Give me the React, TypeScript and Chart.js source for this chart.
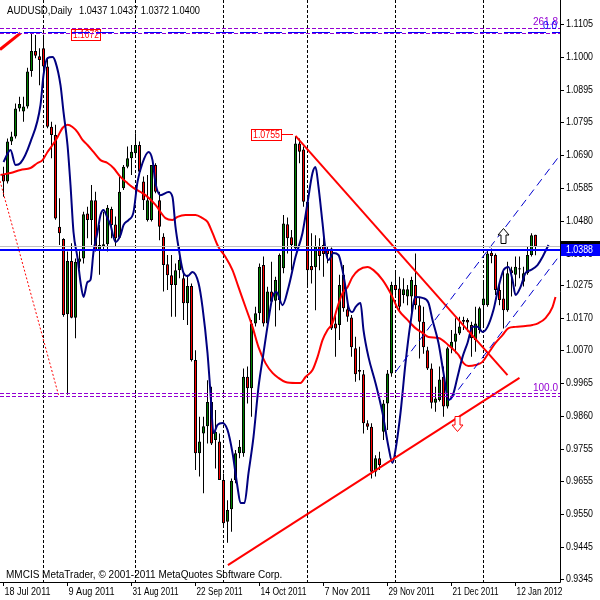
import React, { useEffect, useRef } from 'react';
import { Chart, registerables } from 'chart.js';

Chart.register(...registerables);

// ---------------- data (daily bars, index 0 = 18 Jul 2011) ----------------
const OPEN = [
  1.0627, 1.0606, 1.0733, 1.0749, 1.0838, 1.0828, 1.0844, 1.0957, 1.1020, 1.1004,
  1.1029, 1.0971, 1.0780, 1.0754, 1.0463, 1.0424, 1.0185, 1.0354, 1.0174, 1.0352,
  1.0362, 1.0505, 1.0484, 1.0547, 1.0386, 1.0400, 1.0407, 1.0519, 1.0470, 1.0428,
  1.0585, 1.0653, 1.0680, 1.0696, 1.0722, 1.0606, 1.0484, 1.0484, 1.0659, 1.0547,
  1.0431, 1.0344, 1.0309, 1.0278, 1.0325, 1.0299, 1.0220, 1.0275, 1.0040, 0.9744,
  0.9807, 0.9830, 0.9907, 0.9786, 0.9781, 0.9659, 0.9527, 0.9566, 0.9659, 0.9744,
  0.9744, 0.9987, 0.9950, 1.0156, 1.0188, 1.0341, 1.0156, 1.0257, 1.0228, 1.0230,
  1.0331, 1.0471, 1.0429, 1.0394, 1.0727, 1.0708, 1.0542, 1.0338, 1.0334, 1.0400,
  1.0405, 1.0389, 1.0394, 1.0156, 1.0151, 1.0310, 1.0201, 1.0175, 1.0077, 1.0008,
  0.9995, 0.9839, 0.9828, 0.9685, 0.9728, 0.9812, 0.9902, 0.9997, 1.0278, 1.0267,
  1.0246, 1.0241, 1.0241, 1.0278, 1.0214, 1.0161, 1.0071, 1.0013, 0.9904, 0.9913,
  0.9987, 0.9892, 1.0077, 1.0098, 1.0124, 1.0167, 1.0167, 1.0151, 1.0103, 1.0135,
  1.0214, 1.0214, 1.0380, 1.0373, 1.0262, 1.0235, 1.0198, 1.0325, 1.0310, 1.0331,
  1.0288, 1.0315, 1.0373, 1.0437,
];
const HIGH = [
  1.0653, 1.0743, 1.0764, 1.0854, 1.0875, 1.0875, 1.0967, 1.1080, 1.1071, 1.1029,
  1.1072, 1.0997, 1.0796, 1.0786, 1.0553, 1.0426, 1.0384, 1.0410, 1.0362, 1.0385,
  1.0510, 1.0526, 1.0595, 1.0574, 1.0468, 1.0510, 1.0532, 1.0526, 1.0495, 1.0622,
  1.0659, 1.0717, 1.0722, 1.0759, 1.0733, 1.0622, 1.0627, 1.0659, 1.0664, 1.0574,
  1.0442, 1.0373, 1.0373, 1.0346, 1.0399, 1.0320, 1.0310, 1.0283, 1.0071, 0.9860,
  0.9860, 0.9976, 0.9955, 0.9881, 0.9807, 0.9680, 0.9595, 0.9664, 0.9754, 0.9786,
  1.0013, 1.0019, 1.0167, 1.0209, 1.0346, 1.0368, 1.0272, 1.0352, 1.0304, 1.0378,
  1.0500, 1.0492, 1.0452, 1.0751, 1.0743, 1.0717, 1.0558, 1.0442, 1.0436, 1.0426,
  1.0431, 1.0399, 1.0397, 1.0183, 1.0310, 1.0341, 1.0230, 1.0183, 1.0114, 1.0082,
  1.0008, 0.9849, 0.9839, 0.9738, 0.9749, 0.9913, 1.0008, 1.0288, 1.0325, 1.0304,
  1.0299, 1.0278, 1.0304, 1.0378, 1.0240, 1.0209, 1.0082, 1.0029, 0.9955, 1.0019,
  1.0019, 1.0082, 1.0135, 1.0172, 1.0177, 1.0177, 1.0172, 1.0161, 1.0209, 1.0209,
  1.0294, 1.0389, 1.0394, 1.0378, 1.0283, 1.0325, 1.0352, 1.0336, 1.0368, 1.0368,
  1.0336, 1.0399, 1.0442, 1.0437,
];
const LOW = [
  1.0558, 1.0600, 1.0722, 1.0743, 1.0828, 1.0796, 1.0838, 1.0939, 1.0997, 1.0912,
  1.0907, 1.0775, 1.0680, 1.0485, 1.0405, 1.0177, 0.9930, 1.0172, 1.0109, 1.0330,
  1.0346, 1.0426, 1.0405, 1.0384, 1.0310, 1.0389, 1.0384, 1.0426, 1.0400, 1.0426,
  1.0579, 1.0648, 1.0627, 1.0685, 1.0632, 1.0516, 1.0479, 1.0479, 1.0569, 1.0420,
  1.0257, 1.0262, 1.0177, 1.0177, 1.0299, 1.0167, 1.0151, 1.0035, 0.9691, 0.9670,
  0.9617, 0.9775, 0.9770, 0.9696, 0.9659, 0.9516, 0.9460, 0.9495, 0.9649, 0.9728,
  0.9733, 0.9902, 0.9860, 1.0146, 1.0167, 1.0146, 1.0146, 1.0220, 1.0146, 1.0198,
  1.0315, 1.0378, 1.0325, 1.0389, 1.0664, 1.0526, 1.0273, 1.0283, 1.0198, 1.0325,
  1.0304, 1.0347, 1.0135, 1.0050, 1.0103, 1.0193, 1.0161, 1.0050, 0.9971, 0.9976,
  0.9807, 0.9818, 0.9664, 0.9670, 0.9691, 0.9786, 0.9818, 0.9987, 1.0241, 1.0198,
  1.0220, 1.0214, 1.0188, 1.0200, 1.0045, 1.0060, 1.0008, 0.9886, 0.9876, 0.9908,
  0.9860, 0.9886, 1.0061, 1.0061, 1.0119, 1.0135, 1.0130, 1.0050, 1.0066, 1.0124,
  1.0146, 1.0209, 1.0347, 1.0246, 1.0214, 1.0140, 1.0193, 1.0241, 1.0273, 1.0299,
  1.0273, 1.0310, 1.0368, 1.0372,
];
const CLOSE = [
  1.0606, 1.0733, 1.0749, 1.0838, 1.0852, 1.0844, 1.0955, 1.1020, 1.1005, 1.0992,
  1.0971, 1.0780, 1.0754, 1.0489, 1.0442, 1.0183, 1.0354, 1.0174, 1.0352, 1.0362,
  1.0502, 1.0484, 1.0547, 1.0386, 1.0405, 1.0407, 1.0523, 1.0468, 1.0426, 1.0574,
  1.0653, 1.0680, 1.0701, 1.0722, 1.0637, 1.0547, 1.0547, 1.0659, 1.0574, 1.0463,
  1.0341, 1.0309, 1.0278, 1.0325, 1.0357, 1.0220, 1.0275, 1.0040, 0.9744, 0.9781,
  0.9830, 0.9907, 0.9775, 0.9812, 0.9659, 0.9522, 0.9564, 0.9657, 0.9744, 0.9765,
  0.9987, 0.9950, 1.0156, 1.0188, 1.0336, 1.0156, 1.0257, 1.0225, 1.0294, 1.0373,
  1.0473, 1.0426, 1.0405, 1.0727, 1.0701, 1.0542, 1.0325, 1.0325, 1.0400, 1.0370,
  1.0376, 1.0376, 1.0140, 1.0140, 1.0278, 1.0204, 1.0177, 1.0080, 0.9995, 1.0003,
  0.9839, 0.9828, 0.9685, 0.9728, 0.9707, 0.9902, 0.9997, 1.0278, 1.0262, 1.0209,
  1.0264, 1.0264, 1.0294, 1.0214, 1.0161, 1.0080, 1.0013, 0.9904, 0.9918, 0.9978,
  0.9892, 1.0077, 1.0098, 1.0124, 1.0146, 1.0161, 1.0159, 1.0109, 1.0156, 1.0204,
  1.0235, 1.0378, 1.0370, 1.0262, 1.0230, 1.0198, 1.0315, 1.0315, 1.0336, 1.0327,
  1.0315, 1.0373, 1.0436, 1.0400,
];

const DATE_TICK_BARS = [0, 16, 32, 48, 64, 80, 96, 112, 128];
const DATE_TICK_LABELS = [
  '18 Jul 2011', '9 Aug 2011', '31 Aug 2011', '22 Sep 2011', '14 Oct 2011',
  '7 Nov 2011', '29 Nov 2011', '21 Dec 2011', '12 Jan 2012',
];
const MONTH_START_BARS = [10, 33, 55, 76, 98, 120];
const PRICE_TICKS = [
  1.1105, 1.1, 1.0895, 1.0795, 1.069, 1.0585, 1.048, 1.0375, 1.0275, 1.017,
  1.007, 0.9965, 0.986, 0.9755, 0.9655, 0.955, 0.9445, 0.9345,
];

// moving averages: [bar, price]
const BLUE_MA = [
  [0, 1.0668], [1.75, 1.0706], [3, 1.0659], [4.25, 1.0665], [6.75, 1.0732], [9.25, 1.0849],
  [10, 1.0944], [11, 1.0998], [12.25, 1.1001], [13, 1.0985], [14.25, 1.0912], [15, 1.0827],
  [16, 1.0722], [16.75, 1.0595], [17.5, 1.0446], [18.5, 1.0364], [19.25, 1.0287], [20, 1.024],
  [21, 1.0287], [21.75, 1.0294], [22.5, 1.0383], [23.5, 1.0446], [24.25, 1.05], [25, 1.0516],
  [26, 1.049], [26.75, 1.0468], [28, 1.0414], [29.25, 1.0436], [30, 1.0468], [31.25, 1.0484],
  [32.5, 1.0509], [33.5, 1.0605], [34.75, 1.0665], [36.25, 1.07], [37.25, 1.0674], [38, 1.0601],
  [39.25, 1.0563], [41.25, 1.0573], [42.25, 1.0557], [43, 1.0462], [43.75, 1.0398], [45, 1.0316],
  [46, 1.0306], [47.25, 1.0319], [48.75, 1.0284], [49.75, 1.0208], [51, 1.0062], [51.75, 0.9935],
  [52.5, 0.9808], [53.5, 0.9834], [54.75, 0.984], [56, 0.9818], [57.25, 0.9745], [58.5, 0.9637],
  [59.25, 0.9586], [60.25, 0.9586], [61.25, 0.9681], [62.5, 0.9796], [63.75, 0.9954], [65, 1.0062],
  [66.25, 1.0167], [67.25, 1.024], [68.25, 1.0256], [69.75, 1.0214], [71.25, 1.0271], [73, 1.0367],
  [74.75, 1.0443], [76, 1.0538], [77.25, 1.0633], [78, 1.0652], [78.75, 1.0589], [79.75, 1.0475],
  [80.5, 1.0389], [81.25, 1.0357], [82.5, 1.0379], [83.75, 1.0373], [84.75, 1.0325], [85.5, 1.0271],
  [86.25, 1.0208], [87.25, 1.0192], [88, 1.0208], [89.25, 1.0221], [90, 1.0135], [91.25, 1.0049],
  [93, 0.9967], [94.75, 0.9872], [96.25, 0.9764], [97.25, 0.9713], [98, 0.9754], [99.25, 0.9872],
  [100.5, 1.003], [101.75, 1.0157], [103, 1.024], [104.75, 1.0237], [106.25, 1.0221], [107.25, 1.0167],
  [108.75, 1.0094], [110, 0.9999], [111.25, 0.9913], [112.5, 0.9935], [113.5, 0.9986], [114.75, 1.0049],
  [116, 1.0094], [117.25, 1.0145], [118.5, 1.0145], [119.75, 1.0129], [121, 1.0145], [122.5, 1.0199],
  [123.75, 1.0271], [125, 1.0325], [126.25, 1.0335], [127.25, 1.0294], [128, 1.0246], [129.25, 1.0271],
  [130.5, 1.0316], [131.75, 1.0325], [133.5, 1.0341], [134.75, 1.0367], [136.25, 1.0405],
];
const RED_MA = [
  [-0.75, 1.0627], [1.75, 1.0633], [4.25, 1.0643], [6.75, 1.0649], [8.5, 1.0665], [9.75, 1.0674],
  [11, 1.07], [12.25, 1.0722], [13.5, 1.0747], [14.75, 1.0776], [16, 1.0786], [17.25, 1.0779],
  [18.5, 1.0763], [19.75, 1.0738], [21, 1.0722], [22.5, 1.07], [24.25, 1.0674], [26, 1.0665],
  [27.5, 1.0649], [29.25, 1.0621], [31, 1.0601], [32.5, 1.0586], [34.25, 1.0573], [35.5, 1.0563],
  [38, 1.0532], [40.5, 1.049], [42.25, 1.0484], [43.5, 1.0494], [45.5, 1.05], [48, 1.05],
  [49.75, 1.049], [51, 1.0478], [52.25, 1.0443], [53.75, 1.0398], [55.5, 1.0367], [57.25, 1.0325],
  [58.75, 1.0271], [60.5, 1.0208], [62.25, 1.0145], [63.75, 1.0081], [65.5, 1.003], [67.25, 0.9999],
  [68.75, 0.9983], [70.5, 0.997], [73, 0.9967], [74.25, 0.9967], [75.5, 0.9986], [77.25, 1.0008],
  [78.5, 1.0049], [79.75, 1.0103], [81, 1.0135], [82.25, 1.0157], [83.5, 1.0208], [84.75, 1.0252],
  [86, 1.0271], [87.25, 1.0303], [88.75, 1.0325], [91, 1.0335], [92.5, 1.0325], [94.75, 1.0294],
  [96.75, 1.0252], [98.75, 1.0199], [101, 1.0167], [103, 1.0141], [104.75, 1.0126], [106.25, 1.0113],
  [108.75, 1.011], [111.25, 1.0087], [113.75, 1.0056], [115, 1.003], [116.25, 1.0021], [118, 1.0024],
  [119.75, 1.0034], [121.25, 1.0062], [123, 1.0094], [124.75, 1.0119], [126.25, 1.0141], [128, 1.0145],
  [130.5, 1.0148], [132.25, 1.0151], [133.75, 1.0157], [135.5, 1.0173], [137.25, 1.0208], [138, 1.024],
];

// drawn objects: [bar, price] end points
const RESISTANCE_LINE = [[73, 1.0751], [126, 0.9992]];
const SUPPORT_LINE = [[56.1, 0.9389], [129, 0.9983]];
const EARLY_TREND_LINE = [[-0.875, 1.1025], [4.25, 1.1077]];
const FIBO_BASE_LINE = [[-0.875, 1.0608], [13.75, 0.9929]];
const CHANNEL_UPPER = [[98, 1.0002], [139.125, 1.069]];
const CHANNEL_LOWER = [[111.75, 0.9913], [139.125, 1.0373]];

const FIBO_TOP_LEVELS = [1.1092, 1.1076];
const FIBO_ZERO_LEVEL = 1.108;
const FIBO_BOTTOM_LEVELS = [0.9935, 0.9924];
const FIBO_LABELS = ['261.8', '0.0', '100.0'];
const HLINE_PRICE = 1.0388;
const BID_PRICE = 1.04;
const PEAK_LABEL = { bar: 73, price: 1.0755 };
const HIGH_LABEL = { bar: 16, price: 1.1072 };
const ARROW_UP = [125, 1.0433];
const ARROW_DOWN = [113.5, 0.9837];

const SYMBOL_TITLE = 'AUDUSD,Daily';
const COPYRIGHT = 'MMCIS MetaTrader, \u00A9 2001-2011 MetaQuotes Software Corp.';

// ---------------- scale extents ----------------
const X_MIN = -0.875;
const X_MAX = 139.125;
const Y_MIN = 0.93355;
const Y_MAX = 1.11758;

const FONT = '10px "Liberation Sans", Arial, sans-serif';
const PURPLE = '#9400D3';

const toXY = (pts: number[][]) => pts.map(([x, y]) => ({ x, y }));
const half = (v: number) => Math.floor(v) + 0.5;

function drawArrow(ctx: CanvasRenderingContext2D, cx: number, cy: number, up: boolean, stroke: string) {
  const s = up ? 1 : -1;
  const pts = [[0, -8], [5.5, -1.5], [2.5, -1.5], [2.5, 7], [-2.5, 7], [-2.5, -1.5], [-5.5, -1.5]];
  ctx.beginPath();
  pts.forEach(([dx, dy], k) => {
    const X = cx + dx;
    const Y = cy + dy * s;
    if (k) ctx.lineTo(X, Y); else ctx.moveTo(X, Y);
  });
  ctx.closePath();
  ctx.fillStyle = '#fff';
  ctx.fill();
  ctx.strokeStyle = stroke;
  ctx.lineWidth = 1;
  ctx.setLineDash([]);
  ctx.stroke();
}

function priceBox(ctx: CanvasRenderingContext2D, left: number, cy: number, w: number, text: string) {
  ctx.fillStyle = '#fff';
  ctx.strokeStyle = '#f00';
  ctx.lineWidth = 1;
  ctx.setLineDash([]);
  const top = Math.round(cy - 6) + 0.5;
  ctx.fillRect(left, top, w, 11);
  ctx.strokeRect(left, top, w, 11);
  ctx.fillStyle = '#f00';
  ctx.font = FONT;
  ctx.textAlign = 'center';
  ctx.textBaseline = 'middle';
  ctx.fillText(text, left + w / 2, top + 6, w - 3);
}

const overlayPlugin = {
  id: 'mtOverlay',
  beforeDatasetsDraw(chart: any) {
    const { ctx, chartArea: a } = chart;
    const xs = chart.scales.x;
    ctx.save();
    ctx.strokeStyle = '#000';
    ctx.lineWidth = 1;
    ctx.setLineDash([3, 2]);
    for (const b of MONTH_START_BARS) {
      const px = half(xs.getPixelForValue(b));
      ctx.beginPath();
      ctx.moveTo(px, 0);
      ctx.lineTo(px, a.bottom);
      ctx.stroke();
    }
    ctx.restore();
  },
  afterDatasetsDraw(chart: any) {
    const { ctx, chartArea: a } = chart;
    const xs = chart.scales.x;
    const ys = chart.scales.y;
    ctx.save();
    ctx.beginPath();
    ctx.rect(a.left, 0, a.right - a.left, a.bottom);
    ctx.clip();

    // price labels
    const hx = xs.getPixelForValue(HIGH_LABEL.bar);
    priceBox(ctx, Math.round(hx + 3) + 0.5, ys.getPixelForValue(HIGH_LABEL.price), 29, HIGH_LABEL.price.toFixed(4));
    const px = xs.getPixelForValue(PEAK_LABEL.bar);
    const py = ys.getPixelForValue(PEAK_LABEL.price);
    priceBox(ctx, Math.round(px - 45) + 0.5, py, 30, PEAK_LABEL.price.toFixed(4));
    ctx.strokeStyle = '#f00';
    ctx.beginPath();
    ctx.moveTo(Math.round(px - 15), half(py));
    ctx.lineTo(Math.round(px - 3), half(py));
    ctx.stroke();

    // fibo levels
    const hl = (price: number, color: string, dash: number[], w = 1) => {
      const y = w % 2 ? half(ys.getPixelForValue(price)) : Math.round(ys.getPixelForValue(price));
      ctx.strokeStyle = color;
      ctx.lineWidth = w;
      ctx.setLineDash(dash);
      ctx.beginPath();
      ctx.moveTo(a.left, y);
      ctx.lineTo(a.right, y);
      ctx.stroke();
      return y;
    };
    [...FIBO_TOP_LEVELS, ...FIBO_BOTTOM_LEVELS].forEach((p) => hl(p, PURPLE, [4, 2]));
    hl(FIBO_ZERO_LEVEL, '#0000ff', [18, 6]);

    // bid line and horizontal line
    hl(BID_PRICE, '#c0c0c0', []);
    hl(HLINE_PRICE, '#0000ff', [], 2);

    // fibo labels
    ctx.font = FONT;
    ctx.textAlign = 'right';
    ctx.textBaseline = 'alphabetic';
    ctx.fillStyle = PURPLE;
    ctx.fillText(FIBO_LABELS[0], a.right - 2, ys.getPixelForValue(FIBO_TOP_LEVELS[0]) - 3);
    ctx.fillText(FIBO_LABELS[2], a.right - 2, ys.getPixelForValue(FIBO_BOTTOM_LEVELS[0]) - 2);
    ctx.fillStyle = '#0000ff';
    ctx.fillText(FIBO_LABELS[1], a.right - 3, ys.getPixelForValue(FIBO_ZERO_LEVEL) - 3);

    // arrows
    drawArrow(ctx, half(xs.getPixelForValue(ARROW_UP[0])), half(ys.getPixelForValue(ARROW_UP[1])), true, '#000');
    drawArrow(ctx, half(xs.getPixelForValue(ARROW_DOWN[0])), half(ys.getPixelForValue(ARROW_DOWN[1])), false, '#f00');
    ctx.restore();
  },
  afterDraw(chart: any) {
    const { ctx, chartArea: a } = chart;
    const xs = chart.scales.x;
    const ys = chart.scales.y;
    ctx.save();
    ctx.setLineDash([]);
    ctx.strokeStyle = '#000';
    ctx.lineWidth = 1;
    // axes
    ctx.beginPath();
    ctx.moveTo(a.right + 0.5, 0);
    ctx.lineTo(a.right + 0.5, a.bottom + 0.5);
    ctx.lineTo(0, a.bottom + 0.5);
    ctx.stroke();

    ctx.font = FONT;
    ctx.fillStyle = '#000';
    ctx.textBaseline = 'middle';
    ctx.textAlign = 'left';
    // price ticks
    for (const t of PRICE_TICKS) {
      const y = half(ys.getPixelForValue(t));
      ctx.beginPath();
      ctx.moveTo(a.right, y);
      ctx.lineTo(a.right + 4, y);
      ctx.stroke();
      ctx.fillText(t.toFixed(4), a.right + 6, y, 27);
    }
    // date ticks
    DATE_TICK_BARS.forEach((b, k) => {
      const x = half(xs.getPixelForValue(b));
      ctx.beginPath();
      ctx.moveTo(x, a.bottom);
      ctx.lineTo(x, a.bottom + 4);
      ctx.stroke();
      ctx.fillText(DATE_TICK_LABELS[k], x + 1, a.bottom + 10, 46);
    });

    // bid label and horizontal line label
    const by = ys.getPixelForValue(BID_PRICE);
    ctx.fillStyle = '#000';
    ctx.fillRect(a.right + 1, Math.round(by - 6), 40, 12);
    const hy = ys.getPixelForValue(HLINE_PRICE);
    ctx.fillStyle = '#0000ff';
    ctx.fillRect(a.right + 1, Math.round(hy - 6), 40, 12);
    ctx.fillStyle = '#fff';
    ctx.fillText(HLINE_PRICE.toFixed(4), a.right + 6, Math.round(hy), 27);

    // title & copyright
    ctx.fillStyle = '#000';
    ctx.fillText(SYMBOL_TITLE, 7, 11, 65);
    const last = OPEN.length - 1;
    const ohlc = [OPEN[last], HIGH[last], LOW[last], CLOSE[last]].map((v) => v.toFixed(4)).join(' ');
    ctx.fillText(ohlc, 79, 11, 121);
    ctx.fillText(COPYRIGHT, 6, 575, 277);
    ctx.restore();
  },
};

export default function App() {
  const ref = useRef<HTMLCanvasElement>(null);
  useEffect(() => {
    document.body.style.margin = '0';
    const bars = OPEN.map((_, i) => i);
    const lineDs = (label: string, pts: number[][], color: string, width: number, dash: number[], order: number, smooth = false) => ({
      type: 'line' as const,
      label,
      data: toXY(pts),
      borderColor: color,
      borderWidth: width,
      borderDash: dash,
      pointRadius: 0,
      fill: false,
      order,
      cubicInterpolationMode: smooth ? ('monotone' as const) : ('default' as const),
      tension: smooth ? 0.4 : 0,
    });
    const chart = new Chart(ref.current as HTMLCanvasElement, {
      type: 'bar',
      data: {
        datasets: [
          {
            type: 'bar',
            label: 'wick',
            data: bars.map((i) => ({ x: i, y: [LOW[i], HIGH[i]] })) as any,
            backgroundColor: '#000',
            barThickness: 1,
            inflateAmount: 0,
            grouped: false,
            order: 20,
          } as any,
          {
            type: 'bar',
            label: 'body',
            data: bars.map((i) => ({ x: i, y: [OPEN[i], CLOSE[i]] })) as any,
            backgroundColor: bars.map((i) => (CLOSE[i] >= OPEN[i] ? '#008000' : '#ff0000')),
            borderColor: '#000',
            borderWidth: 1,
            borderSkipped: false,
            barThickness: 3,
            inflateAmount: 0,
            grouped: false,
            order: 19,
          } as any,
          lineDs('red MA', RED_MA, '#ff0000', 2, [], 11, true),
          lineDs('blue MA', BLUE_MA, '#000080', 2, [], 10, true),
          lineDs('fibo base', FIBO_BASE_LINE, '#ff0000', 1, [2, 2], 6),
          lineDs('early trend', EARLY_TREND_LINE, '#ff0000', 3, [], 5),
          lineDs('resistance', RESISTANCE_LINE, '#ff0000', 2, [], 5),
          lineDs('support', SUPPORT_LINE, '#ff0000', 2, [], 5),
          lineDs('channel upper', CHANNEL_UPPER, '#0000cd', 1, [8, 5], 4),
          lineDs('channel lower', CHANNEL_LOWER, '#0000cd', 1, [8, 5], 4),
        ] as any,
      },
      options: {
        responsive: false,
        animation: false,
        devicePixelRatio: 1,
        events: [],
        layout: { padding: { left: 0, top: 2, right: 40, bottom: 18 } },
        plugins: { legend: { display: false }, tooltip: { enabled: false } },
        scales: {
          x: { type: 'linear', display: false, min: X_MIN, max: X_MAX, offset: false },
          y: { type: 'linear', display: false, min: Y_MIN, max: Y_MAX, beginAtZero: false },
        },
      } as any,
      plugins: [overlayPlugin],
    });
    return () => chart.destroy();
  }, []);
  return (
    <canvas
      ref={ref}
      width={600}
      height={600}
      style={{ display: 'block', width: 600, height: 600, position: 'absolute', left: 0, top: 0 }}
    />
  );
}
